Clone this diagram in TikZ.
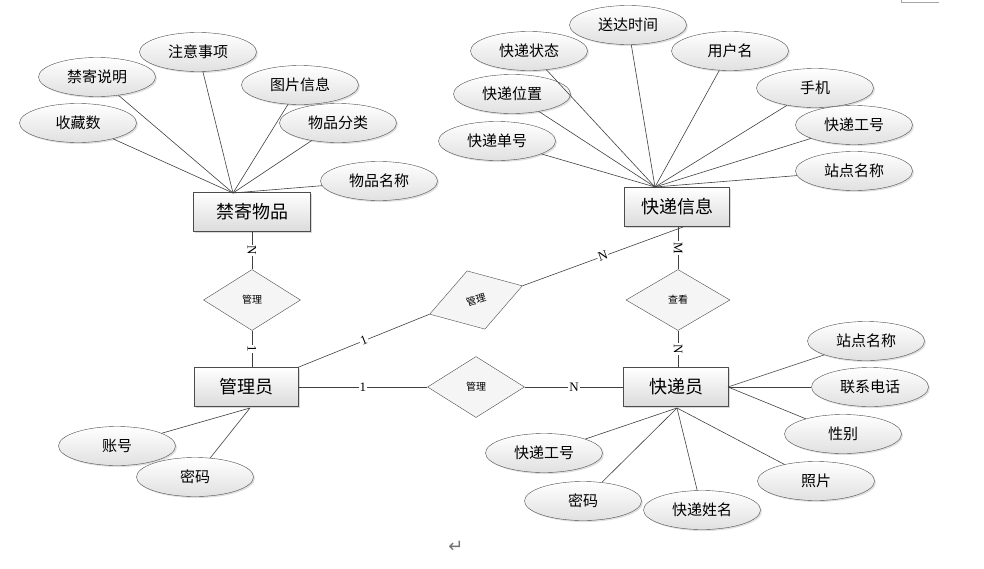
\documentclass[tikz,border=0pt]{standalone}
\usepackage{fontspec}
\setmainfont{Liberation Serif}
\newfontfamily\cjk{Noto Sans CJK SC}
\newfontfamily\symf{DejaVu Sans}
\usetikzlibrary{shapes.geometric,shadows,positioning}

\begin{document}
\begin{tikzpicture}[
  x=1pt, y=-1pt,
  entity/.style={draw=black!70, rectangle, minimum width=105pt,
              minimum height=39pt, inner sep=0pt, top color=white,
              bottom color=black!14, font=\cjk\fontsize{18}{20}\selectfont,
              drop shadow={shadow xshift=1.5pt, shadow yshift=-1.5pt, opacity=0.3}},
  attr/.style={draw=black!70, ellipse, minimum width=117pt,
              minimum height=39pt, inner sep=0pt, top color=white,
              bottom color=black!12, font=\cjk\fontsize{15}{17}\selectfont,
              drop shadow={shadow xshift=1.5pt, shadow yshift=-1.5pt, opacity=0.25}},
  rel/.style={draw=black!70, diamond, minimum width=97pt, minimum height=61pt,
              inner sep=0pt, fill=black!4, font=\cjk\fontsize{10}{12}\selectfont},
  ln/.style={draw=black!75, line width=0.6pt},
  card/.style={fill=white, inner sep=1pt, font=\fontsize{13}{14}\selectfont},
]
\useasboundingbox (0,0) rectangle (984,568);

% entities
\node[entity, minimum width=117pt] (jjwp) at (252,212) {禁寄物品};
\node[entity] (kdxx) at (677,207) {快递信息};
\node[entity, minimum width=104pt] (gly) at (246,387) {管理员};
\node[entity] (kdy) at (676,387) {快递员};

% relationships
\node[rel] (gl1) at (252,300) {管理};
\node[rel, rotate=17] (gl2) at (476,300) {管理};
\node[rel, minimum width=104pt] (ck) at (678,300) {查看};
\node[rel] (gl3) at (476,387) {管理};

% attributes of 禁寄物品
\coordinate (jjtop) at (233,193);
\node[attr] (scs)  at (78,123)  {收藏数};
\node[attr] (jjsm) at (97,77)   {禁寄说明};
\node[attr] (zysx) at (198,52)  {注意事项};
\node[attr] (tpxx) at (300,85)  {图片信息};
\node[attr] (wpfl) at (338,123) {物品分类};
\node[attr] (wpmc) at (379,181) {物品名称};
\foreach \a in {scs,jjsm,zysx,tpxx,wpfl,wpmc}
  \draw[ln] (\a) -- (jjtop);

% attributes of 快递信息
\coordinate (kdtop) at (655,187);
\node[attr] (sdsj) at (628,25)  {送达时间};
\node[attr] (kdzt) at (529,51)  {快递状态};
\node[attr] (yhm)  at (730,51)  {用户名};
\node[attr] (kdwz) at (512,94)  {快递位置};
\node[attr] (sj)   at (815,88)  {手机};
\node[attr] (kddh) at (497,141) {快递单号};
\node[attr] (kdgh) at (854,125) {快递工号};
\node[attr] (zdmc) at (854,171) {站点名称};
\foreach \a in {sdsj,kdzt,yhm,kdwz,sj,kddh,kdgh,zdmc}
  \draw[ln] (\a) -- (kdtop);

% attributes of 管理员
\coordinate (glbot) at (250,408);
\node[attr] (zh) at (117,446) {账号};
\node[attr] (mm) at (195,477) {密码};
\draw[ln] (zh) -- (glbot);
\draw[ln] (mm) -- (glbot);

% attributes of 快递员
\coordinate (kdright) at (728,387);
\coordinate (kdbot) at (677,408);
\node[attr] (zdmc2) at (866,341) {站点名称};
\node[attr] (lxdh)  at (870,387) {联系电话};
\node[attr] (xb)    at (843,434) {性别};
\node[attr] (zp)    at (816,481) {照片};
\node[attr] (kdxm)  at (702,510) {快递姓名};
\node[attr] (mm2)   at (583,501) {密码};
\node[attr] (kdgh2) at (544,453) {快递工号};
\foreach \a in {zdmc2,lxdh,xb}
  \draw[ln] (\a) -- (kdright);
\foreach \a in {zp,kdxm,mm2,kdgh2}
  \draw[ln] (\a) -- (kdbot);

% relationship lines
\coordinate (kdxxs) at (683,227);
\draw[ln] (jjwp.south) -- node[card, rotate=-90] {N} (gl1.north);
\draw[ln] (gl1.south) -- node[card, rotate=-90] {1} (gl1.south |- gly.north);
\draw[ln] (ck.north) -- node[card, rotate=-90] {M} (ck.north |- kdxx.south);
\draw[ln] (ck.south) -- node[card, rotate=-90] {N} (ck.south |- kdy.north);
\draw[ln] (gly.east) -- node[card] {1} (gl3.west);
\draw[ln] (gl3.east) -- node[card] {N} (kdy.west);
\draw[ln] (gly.north east) -- node[card, sloped, pos=0.5] {1} (gl2.west);
\draw[ln] (gl2.east) -- node[card, sloped, pos=0.5] {N} (kdxxs);

% page marks
\draw[black!35, line width=0.8pt] (901,0) |- (939,2);
\node[text=black!55, font=\symf\fontsize{18}{20}\selectfont] (ret) at (456,547) {↵};
\end{tikzpicture}
\end{document}
